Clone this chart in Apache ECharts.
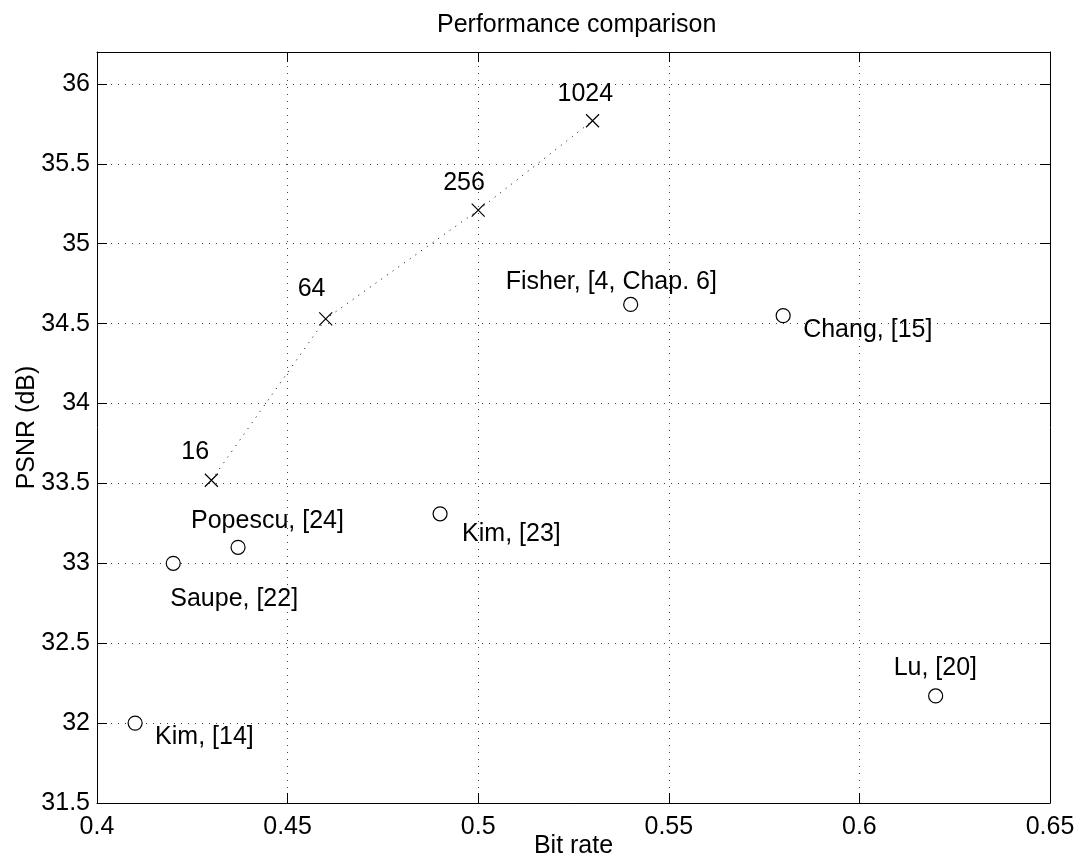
<!DOCTYPE html>
<html>
<head>
<meta charset="utf-8">
<title>Performance comparison</title>
<script src="https://cdn.jsdelivr.net/npm/echarts@6/dist/echarts.min.js"></script>
<style>
  html, body { margin: 0; padding: 0; background: #fff; }
  #chart { width: 1080px; height: 865px; }
</style>
</head>
<body>
<div id="chart"></div>
<script>
  // proposed method (block counts)
  const proposedLabels = ['16', '64', '256', '1024'];
  const proposedRate = [0.43, 0.46, 0.50, 0.53];
  const proposedPsnr = [33.52, 34.53, 35.21, 35.77];

  // other methods
  const refLabels = ['Kim, [14]', 'Saupe, [22]', 'Popescu, [24]', 'Kim, [23]', 'Fisher, [4, Chap. 6]', 'Chang, [15]', 'Lu, [20]'];
  const refRate = [0.41, 0.42, 0.437, 0.49, 0.54, 0.58, 0.62];
  const refPsnr = [32.0, 33.0, 33.1, 33.31, 34.62, 34.55, 32.17];

  const xTicks = [0.4, 0.45, 0.5, 0.55, 0.6, 0.65];
  const yTicks = [31.5, 32, 32.5, 33, 33.5, 34, 34.5, 35, 35.5, 36];

  // label placement (pixel offsets from the marker), kept apart from the data
  const proposedOffsets = [[-30, -28], [-28, -30], [-35, -27], [-35, -27]];
  const refOffsets = [[20, 14], [-3, 36], [-47, -26], [22, 20], [-125, -22], [20, 14], [-42, -28]];

  const FONT = "'Liberation Sans', Arial, Helvetica, sans-serif";
  const FS = 25;
  const cross = 'path://M0,0L10,10M10,0L0,10';

  const chart = echarts.init(document.getElementById('chart'));

  const labelStyle = (off) => ({
    show: true,
    position: 'inside',
    align: 'left',
    verticalAlign: 'middle',
    offset: off,
    color: '#000',
    opacity: 1,
    textBorderWidth: 0,
    textBorderColor: 'transparent',
    fontFamily: FONT,
    fontSize: FS
  });

  const gridDash = { color: '#444', type: [1, 6], width: 1 };

  const baseAxis = {
    axisLine: { show: true, onZero: false, lineStyle: { color: '#000', width: 1 } },
    axisTick: { show: true, inside: true, length: 10, lineStyle: { color: '#000' } },
  };

  const option = {
    backgroundColor: '#fff',
    animation: false,
    title: {
      text: 'Performance comparison',
      left: 432,
      top: 8,
      textStyle: { fontFamily: FONT, fontSize: FS, fontWeight: 'normal', color: '#000' }
    },
    grid: { left: 97, top: 52, right: 30, bottom: 62, show: false, outerBoundsMode: 'none', containLabel: false },
    xAxis: [
      Object.assign({}, baseAxis, {
        type: 'value', min: xTicks[0], max: xTicks[xTicks.length - 1], interval: 0.05,
        position: 'bottom',
        name: 'Bit rate', nameLocation: 'middle', nameGap: 31, nameMoveOverlap: false,
        nameTextStyle: { fontFamily: FONT, fontSize: FS, color: '#000' },
        axisLabel: { color: '#000', fontFamily: FONT, fontSize: FS, margin: 12 },
        splitLine: { show: true, lineStyle: gridDash }
      }),
      Object.assign({}, baseAxis, {
        type: 'value', min: xTicks[0], max: xTicks[xTicks.length - 1], interval: 0.05,
        position: 'top',
        axisLabel: { show: false },
        splitLine: { show: false }
      })
    ],
    yAxis: [
      Object.assign({}, baseAxis, {
        type: 'value', min: yTicks[0], max: 36.2, interval: 0.5,
        position: 'left',
        name: 'PSNR (dB)', nameLocation: 'middle', nameGap: 57, nameMoveOverlap: false,
        nameTextStyle: { fontFamily: FONT, fontSize: FS, color: '#000' },
        axisLabel: { color: '#000', fontFamily: FONT, fontSize: FS, margin: 7, showMaxLabel: false },
        splitLine: { show: true, lineStyle: gridDash }
      }),
      Object.assign({}, baseAxis, {
        type: 'value', min: yTicks[0], max: 36.2, interval: 0.5,
        position: 'right',
        axisLabel: { show: false },
        splitLine: { show: false }
      })
    ],
    series: [
      {
        name: 'Proposed',
        type: 'line',
        xAxisIndex: 0, yAxisIndex: 0,
        symbol: cross,
        symbolSize: 13,
        itemStyle: { color: '#fff', borderColor: '#000', borderWidth: 1.2 },
        lineStyle: { color: '#000', width: 1, type: [1, 6] },
        data: proposedRate.map((x, i) => ({
          value: [x, proposedPsnr[i]],
          name: proposedLabels[i],
          label: labelStyle(proposedOffsets[i])
        })),
        label: { formatter: '{b}' },
        z: 3
      },
      {
        name: 'Others',
        type: 'scatter',
        xAxisIndex: 0, yAxisIndex: 0,
        symbol: 'circle',
        symbolSize: 14,
        itemStyle: { color: '#fff', borderColor: '#000', borderWidth: 1.2, opacity: 1 },
        data: refRate.map((x, i) => ({
          value: [x, refPsnr[i]],
          name: refLabels[i],
          label: labelStyle(refOffsets[i])
        })),
        label: { formatter: '{b}' },
        z: 3
      },
      {
        name: 'note',
        type: 'scatter',
        symbol: 'none',
        symbolSize: 0,
        silent: true,
        itemStyle: { opacity: 1 },
        data: [{ value: [0.415, 35.626], name: 'x: Proposed', label: labelStyle([0, 0]) }],
        label: { formatter: '{b}' }
      }
    ]
  };

  chart.setOption(option);
</script>
</body>
</html>
